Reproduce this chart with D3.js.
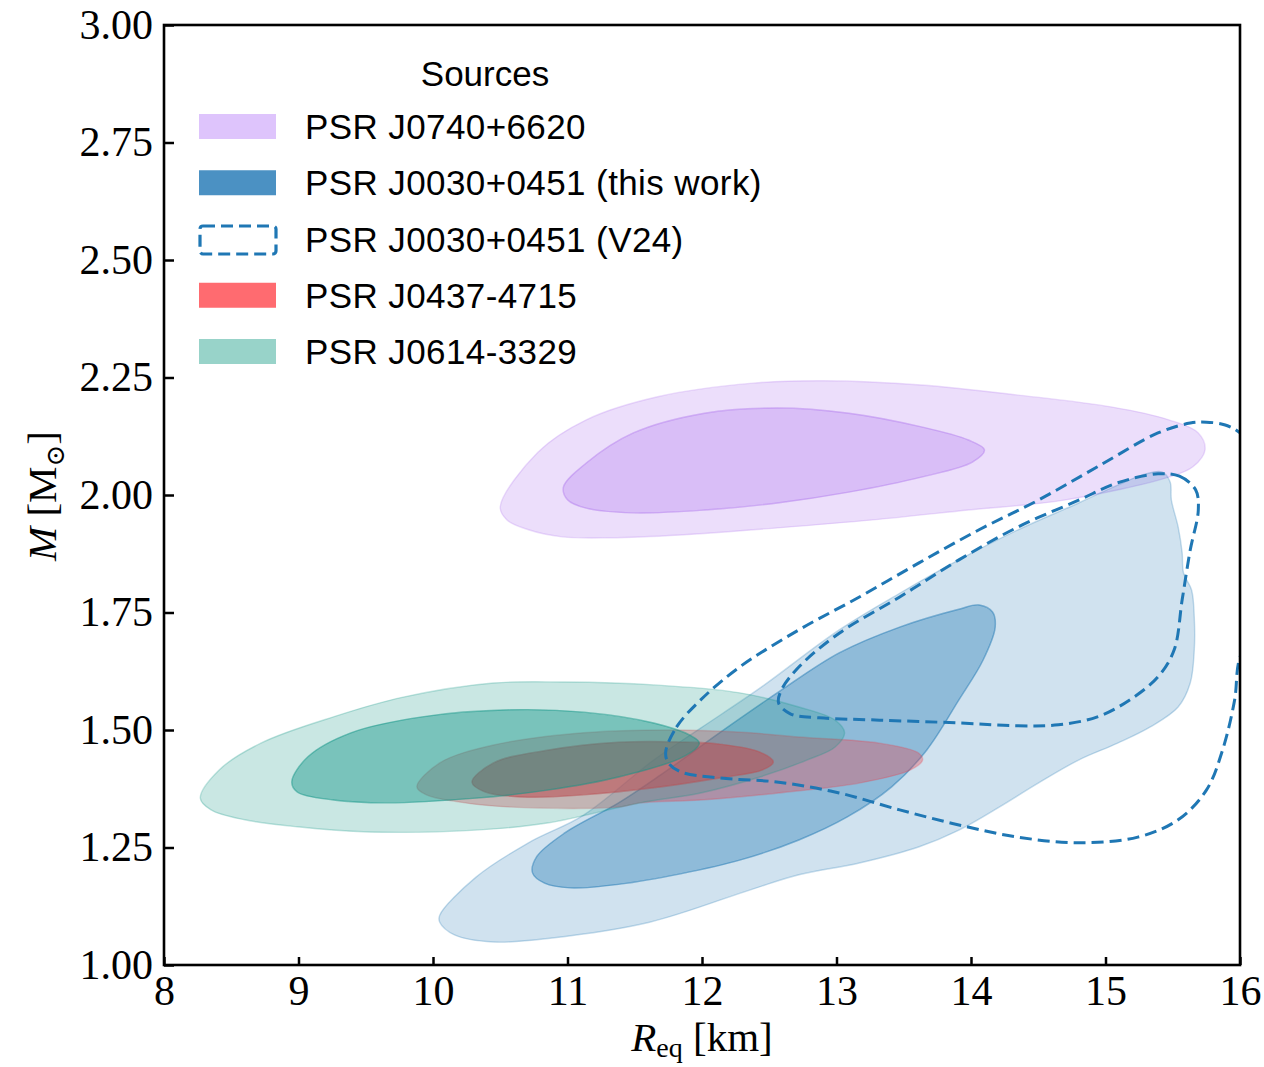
<!DOCTYPE html>
<html>
<head>
<meta charset="utf-8">
<script src="https://cdn.jsdelivr.net/npm/d3@7"></script>
<style>
  body { margin: 0; background: #ffffff; }
  svg { display: block; }
</style>
</head>
<body>
<svg id="chart" width="1264" height="1067"></svg>
<script>
// ---- axis ticks ----
const xTicks = [8, 9, 10, 11, 12, 13, 14, 15, 16];
const yTicks = [1.00, 1.25, 1.50, 1.75, 2.00, 2.25, 2.50, 2.75, 3.00];

// ---- legend entries ----
const legendTitle = "Sources";
const legendLabels = [
  "PSR J0740+6620",
  "PSR J0030+0451 (this work)",
  "PSR J0030+0451 (V24)",
  "PSR J0437-4715",
  "PSR J0614-3329"
];

// ---- credible-region contours, [R_eq (km), M (Msun)] ----
// PSR J0740+6620
const j0740Outer = [
  [10.50, 1.975], [10.78, 2.091], [11.14, 2.160], [11.67, 2.209], [12.38, 2.238],
  [12.91, 2.243], [13.63, 2.234], [14.34, 2.213], [15.05, 2.187], [15.47, 2.160],
  [15.69, 2.132], [15.74, 2.096], [15.65, 2.060], [15.47, 2.038], [14.69, 1.989],
  [13.98, 1.968], [13.27, 1.947], [12.56, 1.930], [11.84, 1.915], [11.32, 1.909],
  [10.96, 1.911], [10.71, 1.926], [10.55, 1.947]
];
const j0740Inner = [
  [10.97, 2.017], [11.14, 2.068], [11.49, 2.132], [12.02, 2.174], [12.56, 2.185],
  [13.09, 2.174], [13.63, 2.145], [13.98, 2.117], [14.10, 2.096], [14.01, 2.070],
  [13.63, 2.038], [13.09, 2.006], [12.56, 1.983], [12.02, 1.968], [11.49, 1.962],
  [11.14, 1.972], [11.00, 1.990]
];

// PSR J0030+0451 (this work)
const j0030Outer = [
  [10.05, 1.106], [10.32, 1.187], [10.71, 1.260], [11.12, 1.319], [11.64, 1.436],
  [11.99, 1.504], [12.43, 1.589], [13.02, 1.713], [13.47, 1.791], [13.91, 1.862],
  [14.35, 1.926], [14.80, 1.983], [15.09, 2.021], [15.30, 2.045], [15.42, 2.049],
  [15.48, 2.028], [15.49, 1.989], [15.54, 1.932], [15.57, 1.877], [15.58, 1.834],
  [15.64, 1.798], [15.66, 1.740], [15.66, 1.670], [15.63, 1.600], [15.54, 1.549],
  [15.33, 1.506], [15.09, 1.472], [14.80, 1.436], [14.50, 1.387], [14.21, 1.336],
  [13.91, 1.287], [13.61, 1.251], [13.17, 1.217], [12.72, 1.192], [12.36, 1.160],
  [11.61, 1.091], [10.87, 1.057], [10.45, 1.049], [10.16, 1.064], [10.05, 1.091]
];
const j0030Inner = [
  [10.74, 1.196], [10.77, 1.230], [10.98, 1.281], [11.38, 1.345], [11.69, 1.404],
  [12.13, 1.494], [12.57, 1.581], [13.02, 1.664], [13.47, 1.719], [13.91, 1.757],
  [14.06, 1.766], [14.16, 1.751], [14.18, 1.719], [14.09, 1.649], [13.91, 1.564],
  [13.67, 1.457], [13.41, 1.379], [13.08, 1.315], [12.72, 1.266], [12.28, 1.223],
  [11.84, 1.194], [11.39, 1.172], [11.02, 1.164], [10.83, 1.174]
];

// PSR J0030+0451 (V24), drawn as outlines
const v24Outer = [
  [11.73, 1.453], [11.81, 1.506], [11.99, 1.564], [12.28, 1.634], [12.72, 1.713],
  [13.17, 1.783], [13.61, 1.855], [14.06, 1.926], [14.50, 1.989], [14.94, 2.060],
  [15.39, 2.132], [15.63, 2.153], [15.75, 2.155], [15.89, 2.149], [16.00, 2.132],
  [16.16, 2.074], [16.26, 1.904], [16.16, 1.734], [16.00, 1.655], [15.96, 1.564],
  [15.87, 1.457], [15.75, 1.372], [15.54, 1.309], [15.24, 1.272], [14.80, 1.260],
  [14.35, 1.272], [13.91, 1.298], [13.47, 1.330], [13.02, 1.366], [12.57, 1.389],
  [12.13, 1.398], [11.84, 1.411], [11.75, 1.430]
];
const v24Inner = [
  [15.39, 2.045], [15.55, 2.040], [15.67, 2.011], [15.69, 1.968], [15.63, 1.883],
  [15.57, 1.777], [15.51, 1.670], [15.39, 1.613], [15.18, 1.564], [14.94, 1.528],
  [14.65, 1.511], [14.35, 1.509], [13.91, 1.515], [13.32, 1.521], [12.87, 1.526],
  [12.66, 1.534], [12.57, 1.557], [12.59, 1.585], [12.72, 1.634], [13.02, 1.706],
  [13.47, 1.783], [13.91, 1.862], [14.35, 1.932], [14.80, 1.989], [15.09, 2.026]
];

// PSR J0437-4715
const j0437Outer = [
  [9.88, 1.379], [10.05, 1.430], [10.45, 1.468], [11.12, 1.494], [11.78, 1.500],
  [12.36, 1.494], [12.72, 1.485], [13.32, 1.472], [13.61, 1.451], [13.64, 1.436],
  [13.55, 1.415], [13.17, 1.387], [12.57, 1.366], [11.99, 1.351], [11.54, 1.345],
  [11.38, 1.336], [10.58, 1.336], [10.19, 1.347], [9.95, 1.362]
];
const j0437Inner = [
  [10.29, 1.389], [10.45, 1.430], [10.85, 1.457], [11.38, 1.474], [11.91, 1.474],
  [12.13, 1.470], [12.43, 1.453], [12.53, 1.432], [12.45, 1.415], [12.13, 1.398],
  [11.64, 1.377], [11.12, 1.362], [10.71, 1.357], [10.39, 1.368]
];

// PSR J0614-3329
const j0614Outer = [
  [8.27, 1.355], [8.41, 1.415], [8.72, 1.472], [9.26, 1.528], [9.78, 1.570],
  [10.45, 1.600], [10.98, 1.602], [11.64, 1.596], [12.28, 1.579], [12.72, 1.549],
  [12.99, 1.521], [13.06, 1.494], [12.99, 1.464], [12.78, 1.436], [12.43, 1.400],
  [11.99, 1.366], [11.54, 1.345], [10.85, 1.302], [10.32, 1.287], [9.52, 1.283],
  [8.99, 1.294], [8.60, 1.309], [8.35, 1.330]
];
const j0614Inner = [
  [8.95, 1.390], [9.07, 1.443], [9.39, 1.494], [9.92, 1.528], [10.58, 1.543],
  [11.12, 1.538], [11.64, 1.515], [11.91, 1.489], [11.98, 1.472], [11.86, 1.443],
  [11.38, 1.400], [10.85, 1.372], [10.32, 1.355], [9.65, 1.345], [9.26, 1.351],
  [8.99, 1.368]
];

// ---- styling ----
const colors = {
  purple: "#b47df0",
  blue: "#1f77b4",
  red: "#eb3c46",
  teal: "#149687"
};
const legendFills = ["#dec4fc", "#4b91c3", null, "#ff6b70", "#98d3c9"];

const svg = d3.select("#chart");
const plot = { left: 164, right: 1240, top: 25, bottom: 965 };

const x = d3.scaleLinear().domain([8, 16]).range([plot.left, plot.right]);
const y = d3.scaleLinear().domain([1, 3]).range([plot.bottom, plot.top]);

const line = d3.line()
  .x(d => x(d[0]))
  .y(d => y(d[1]))
  .curve(d3.curveCatmullRomClosed.alpha(0.5));

svg.append("defs").append("clipPath").attr("id", "plot-clip")
  .append("rect")
  .attr("x", plot.left).attr("y", plot.top)
  .attr("width", plot.right - plot.left).attr("height", plot.bottom - plot.top);

const g = svg.append("g").attr("clip-path", "url(#plot-clip)");

// outer band (between outer and inner levels) and inner region, like filled contour levels
function drawRegion(outer, inner, color, outerAlpha, innerAlpha) {
  g.append("path")
    .attr("d", line(outer) + line(inner))
    .attr("fill-rule", "evenodd")
    .attr("fill", color)
    .attr("fill-opacity", outerAlpha)
    .attr("stroke", color)
    .attr("stroke-opacity", 0.25)
    .attr("stroke-width", 1.4);
  g.append("path")
    .attr("d", line(inner))
    .attr("fill", color)
    .attr("fill-opacity", innerAlpha)
    .attr("stroke", color)
    .attr("stroke-opacity", 0.3)
    .attr("stroke-width", 1.4);
}

drawRegion(j0740Outer, j0740Inner, colors.purple, 0.25, 0.5);
drawRegion(j0030Outer, j0030Inner, colors.blue, 0.21, 0.5);
drawRegion(j0437Outer, j0437Inner, colors.red, 0.33, 0.72);
drawRegion(j0614Outer, j0614Inner, colors.teal, 0.23, 0.57);

[v24Outer, v24Inner].forEach(c => {
  g.append("path")
    .attr("d", line(c))
    .attr("fill", "none")
    .attr("stroke", colors.blue)
    .attr("stroke-width", 3)
    .attr("stroke-dasharray", "12,6");
});

// ---- axes ----
const serif = "'Liberation Serif', 'DejaVu Serif', serif";
const sans = "'Liberation Sans', 'DejaVu Sans', sans-serif";

const xAxis = svg.append("g")
  .attr("transform", `translate(0,${plot.bottom})`)
  .call(d3.axisBottom(x).tickValues(xTicks).tickFormat(d3.format("d"))
    .tickSizeInner(-8).tickSizeOuter(0).tickPadding(10));
const yAxis = svg.append("g")
  .attr("transform", `translate(${plot.left},0)`)
  .call(d3.axisLeft(y).tickValues(yTicks).tickFormat(d3.format(".2f"))
    .tickSizeInner(-10).tickSizeOuter(0).tickPadding(11));

[xAxis, yAxis].forEach(a => {
  a.select(".domain").remove();
  a.selectAll(".tick line").attr("stroke", "#000").attr("stroke-width", 2.5);
  a.selectAll(".tick text")
    .attr("fill", "#000")
    .style("font-family", serif)
    .style("font-size", "42px");
});

// frame
svg.append("rect")
  .attr("x", plot.left).attr("y", plot.top)
  .attr("width", plot.right - plot.left).attr("height", plot.bottom - plot.top)
  .attr("fill", "none")
  .attr("stroke", "#000")
  .attr("stroke-width", 2.6);

// axis titles
const xt = svg.append("text")
  .attr("x", 702).attr("y", 1051)
  .attr("text-anchor", "middle")
  .style("font-family", serif)
  .style("font-size", "41px");
xt.append("tspan").style("font-style", "italic").text("R");
xt.append("tspan").attr("dy", 6).style("font-size", "28px").text("eq");
xt.append("tspan").attr("dy", -6).text(" [km]");

const yt = svg.append("text")
  .attr("transform", "translate(56,496) rotate(-90)")
  .attr("text-anchor", "middle")
  .style("font-family", serif)
  .style("font-size", "41px");
yt.append("tspan").style("font-style", "italic").text("M");
yt.append("tspan").text(" [M");
yt.append("tspan").attr("dy", 8).style("font-size", "26px")
  .style("font-family", "'DejaVu Serif', serif").text("\u2299");
yt.append("tspan").attr("dy", -8).text("]");

// ---- legend ----
const legend = svg.append("g");
legend.append("text")
  .attr("x", 485).attr("y", 86)
  .attr("text-anchor", "middle")
  .style("font-family", sans)
  .style("font-size", "35px")
  .attr("fill", "#000")
  .text(legendTitle);

const rowY = d3.scalePoint().domain(d3.range(legendLabels.length)).range([126.5, 351.5]);

legendLabels.forEach((label, i) => {
  const cy = rowY(i);
  if (legendFills[i]) {
    legend.append("rect")
      .attr("x", 199).attr("y", cy - 12.5)
      .attr("width", 77).attr("height", 25)
      .attr("fill", legendFills[i]);
  } else {
    legend.append("rect")
      .attr("x", 200).attr("y", cy - 13)
      .attr("width", 76).attr("height", 28)
      .attr("rx", 3)
      .attr("fill", "none")
      .attr("stroke", colors.blue)
      .attr("stroke-width", 3.2)
      .attr("stroke-dasharray", "12,6");
  }
  legend.append("text")
    .attr("x", 305).attr("y", cy + 12.5)
    .style("font-family", sans)
    .style("font-size", "35px")
    .style("letter-spacing", "0.4px")
    .attr("fill", "#000")
    .text(label);
});
</script>
</body>
</html>
